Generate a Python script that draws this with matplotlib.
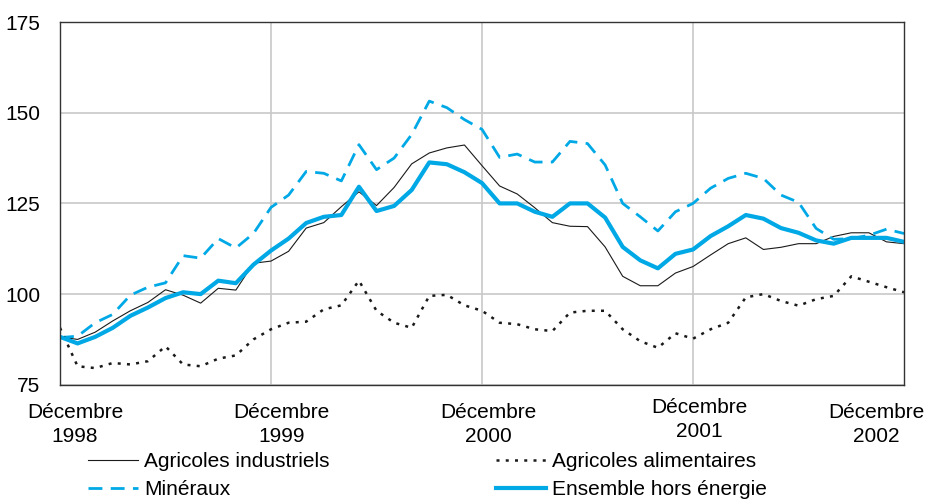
import matplotlib
matplotlib.use("Agg")
import matplotlib.pyplot as plt
from matplotlib import font_manager
import matplotlib.transforms as mtransforms

# Mois depuis décembre 1998 (0) jusqu'à décembre 2002 (48)
months = list(range(49))

agricoles_industriels = [
    88.2, 87.5, 89.5, 92.6, 95.4, 97.7, 101.2, 99.7, 97.5, 101.6, 101.1, 108.5,
    109.1, 111.8, 118.2, 119.7, 124.1, 128.2, 124.4, 129.4, 135.9, 138.9, 140.3, 141.1,
    135.4, 129.8, 127.6, 123.8, 119.7, 118.7, 118.6, 113.0, 104.9, 102.3, 102.3, 105.8,
    107.6, 110.8, 113.9, 115.5, 112.3, 112.9, 113.9, 113.9, 115.9, 116.9, 116.9, 114.4,
    113.9,
]
agricoles_alimentaires = [
    90.7, 80.1, 79.6, 81.0, 80.6, 81.5, 85.6, 80.6, 80.1, 82.2, 83.1, 87.5,
    90.3, 92.1, 92.4, 95.8, 96.9, 103.7, 95.4, 92.1, 90.7, 99.5, 99.8, 96.9,
    95.4, 92.1, 91.7, 90.3, 89.8, 94.9, 95.4, 95.4, 90.3, 87.0, 85.2, 89.2,
    87.7, 90.3, 92.1, 99.1, 100.0, 98.1, 96.8, 98.6, 99.5, 104.9, 103.4, 101.9,
    100.5,
]
mineraux = [
    88.0, 88.4, 92.1, 94.4, 99.7, 101.9, 103.1, 110.6, 109.9, 115.3, 112.7, 116.7,
    123.9, 127.3, 133.8, 133.3, 131.2, 141.2, 134.3, 137.5, 144.0, 153.2, 151.4, 148.1,
    145.4, 137.7, 138.6, 136.4, 136.4, 142.1, 141.5, 135.6, 125.0, 121.3, 117.4, 122.7,
    125.0, 129.2, 131.9, 133.3, 131.9, 127.3, 125.3, 118.1, 115.1, 115.3, 116.2, 117.9,
    116.7,
]
ensemble_hors_energie = [
    88.2, 86.4, 88.2, 90.7, 94.0, 96.3, 98.9, 100.5, 100.0, 103.7, 103.0, 108.1,
    112.0, 115.3, 119.6, 121.3, 121.8, 129.6, 122.9, 124.3, 128.7, 136.3, 135.8, 133.6,
    130.6, 125.0, 125.0, 122.7, 121.3, 125.0, 125.0, 121.1, 113.0, 109.3, 107.1, 111.1,
    112.3, 116.0, 118.7, 121.8, 120.8, 118.2, 116.9, 114.8, 113.9, 115.5, 115.5, 115.5,
    114.4,
]

x_ticks = [0, 12, 24, 36, 48]
x_labels = ["Décembre\n1998", "Décembre\n1999", "Décembre\n2000",
            "Décembre\n2001", "Décembre\n2002"]
y_ticks = [75, 100, 125, 150, 175]

BLUE = "#00a9e6"

installed = {f.name for f in font_manager.fontManager.ttflist}
family = "Liberation Sans Narrow" if "Liberation Sans Narrow" in installed else "Liberation Sans"
plt.rcParams["font.family"] = [family, "DejaVu Sans"]

fig = plt.figure(figsize=(9.26, 5.01), dpi=100)
ax = fig.add_axes([0.0648, 0.232, 0.9115, 0.724])

ax.plot(months, agricoles_industriels, color="#1a1a1a", linewidth=0.8,
        label="Agricoles industriels")
ax.plot(months, mineraux, color=BLUE, linewidth=2.0, linestyle=(0, (5, 3)),
        label="Minéraux")
ax.plot(months, agricoles_alimentaires, color="#1a1a1a", linewidth=1.8,
        linestyle=(0, (1.2, 2.5)), label="Agricoles alimentaires")
ax.plot(months, ensemble_hors_energie, color=BLUE, linewidth=3.0,
        label="Ensemble hors énergie")

ax.set_xlim(0, 48)
ax.set_ylim(75, 175)
ax.set_yticks(y_ticks)
ax.set_yticklabels([str(v) for v in y_ticks], fontsize=15)
ax.set_xticks(x_ticks[1:-1])
ax.set_xticklabels([])
ax.tick_params(length=0, pad=14)
ax.yaxis.grid(True, color="#c8c8c8", linewidth=1.2)
ax.xaxis.grid(True, color="#c8c8c8", linewidth=1.2)
ax.set_axisbelow(True)
for s in ax.spines.values():
    s.set_color("#333333")
    s.set_linewidth(1.0)

# étiquettes de l'axe des x, légèrement décalées comme dans l'original
offsets = [0.85, 0.6, 0.35, 0.35, -1.6]
y_pos = [-0.05, -0.05, -0.05, -0.037, -0.05]
trans = mtransforms.blended_transform_factory(ax.transData, ax.transAxes)
for t, lab, dx, yy in zip(x_ticks, x_labels, offsets, y_pos):
    ax.text(t + dx, yy, lab, transform=trans, ha="center", va="top",
            fontsize=15, linespacing=1.35)

fig.legend(loc="upper left", bbox_to_anchor=(0.0945, 0.098), ncol=2,
           frameon=False, fontsize=15, handlelength=2.4, handletextpad=0.3,
           columnspacing=8.0, labelspacing=0.45, borderaxespad=0, borderpad=0)

fig.savefig("out.png", dpi=100)
